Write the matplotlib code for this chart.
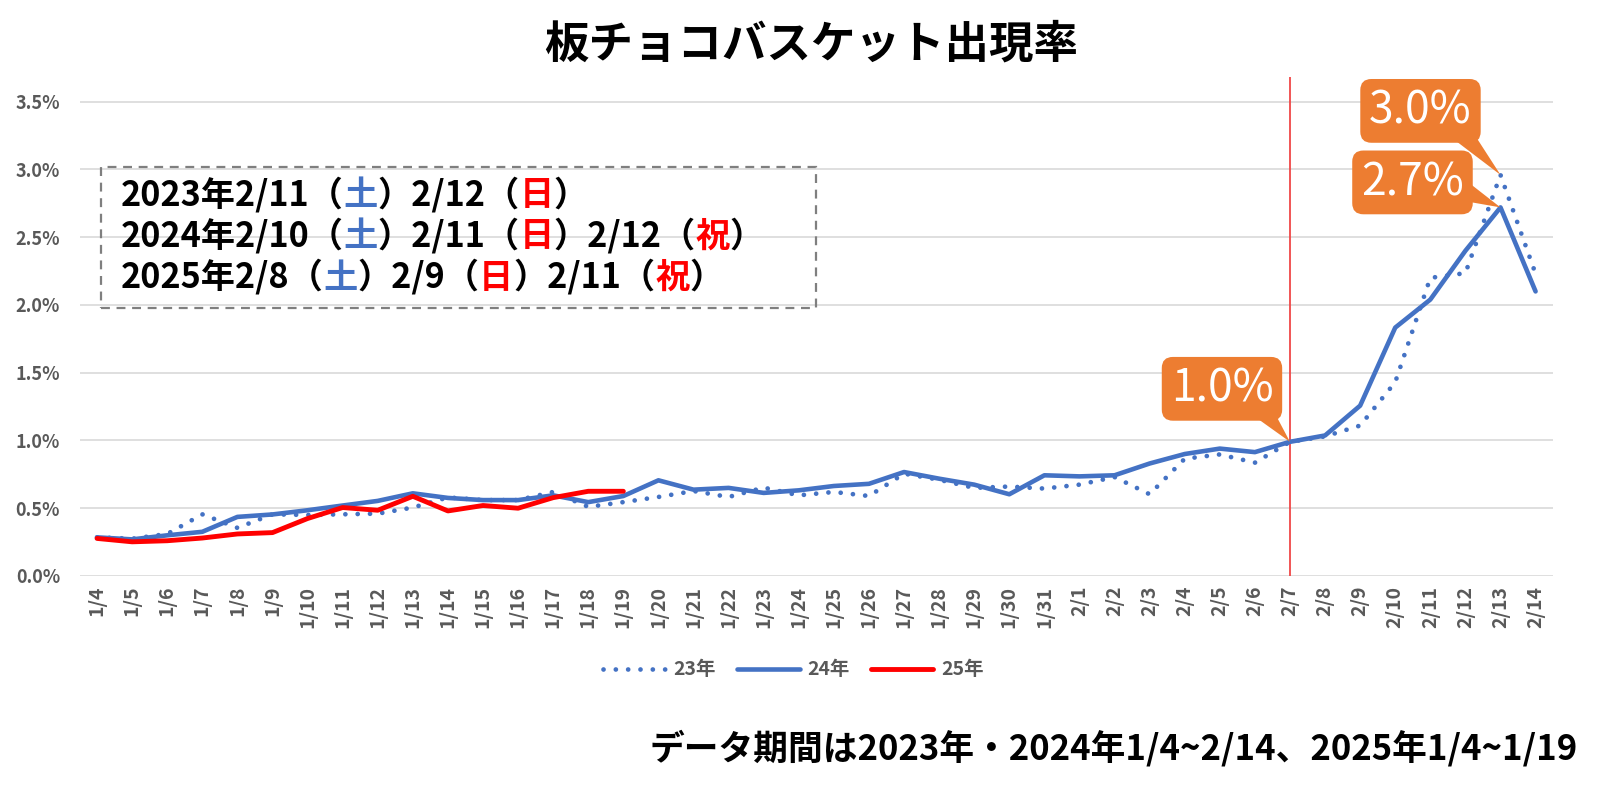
import matplotlib
matplotlib.use("Agg")
import matplotlib.pyplot as plt
from matplotlib.patches import Rectangle

plt.rcParams['font.family'] = ['Noto Sans CJK JP', 'DejaVu Sans']

# -------------------------------------------------
# DATA (rate in %)
# -------------------------------------------------
days = ['1/4', '1/5', '1/6', '1/7', '1/8', '1/9', '1/10', '1/11', '1/12', '1/13',
        '1/14', '1/15', '1/16', '1/17', '1/18', '1/19', '1/20', '1/21', '1/22', '1/23',
        '1/24', '1/25', '1/26', '1/27', '1/28', '1/29', '1/30', '1/31',
        '2/1', '2/2', '2/3', '2/4', '2/5', '2/6', '2/7', '2/8', '2/9', '2/10',
        '2/11', '2/12', '2/13', '2/14']

rate_23 = [0.285, 0.275, 0.31, 0.455, 0.355, 0.455, 0.45, 0.455, 0.46, 0.505,
           0.58, 0.56, 0.56, 0.62, 0.51, 0.545, 0.583, 0.627, 0.583, 0.652,
           0.595, 0.62, 0.59, 0.755, 0.71, 0.65, 0.66, 0.645,
           0.674, 0.73, 0.603, 0.865, 0.897, 0.836, 0.99, 1.03, 1.11, 1.43,
           2.2, 2.235, 2.96, 2.23]

rate_24 = [0.285, 0.27, 0.30, 0.326, 0.436, 0.454, 0.485, 0.52, 0.554, 0.61,
           0.576, 0.56, 0.56, 0.595, 0.545, 0.59, 0.706, 0.637, 0.65, 0.613,
           0.632, 0.664, 0.68, 0.767, 0.718, 0.674, 0.603, 0.743,
           0.735, 0.743, 0.83, 0.90, 0.94, 0.914, 0.99, 1.037, 1.257, 1.833,
           2.04, 2.40, 2.72, 2.10]

rate_25 = [0.277, 0.252, 0.26, 0.28, 0.31, 0.32, 0.424, 0.505, 0.485, 0.588,
           0.48, 0.52, 0.50, 0.578, 0.625, 0.625]

yticks = [0.0, 0.5, 1.0, 1.5, 2.0, 2.5, 3.0, 3.5]

# calendar note lines: (text, colour) segments
note_lines = [
    [('2023年2/11（', 'black'), ('土', 'blue'), ('）2/12（', 'black'), ('日', 'red'), ('）', 'black')],
    [('2024年2/10（', 'black'), ('土', 'blue'), ('）2/11（', 'black'), ('日', 'red'),
     ('）2/12（', 'black'), ('祝', 'red'), ('）', 'black')],
    [('2025年2/8（', 'black'), ('土', 'blue'), ('）2/9（', 'black'), ('日', 'red'),
     ('）2/11（', 'black'), ('祝', 'red'), ('）', 'black')],
]

BLUE = '#4472C4'
RED = '#FF0000'
ORANGE = '#ED7D31'
GRAY = '#595959'
seg_colors = {'black': 'black', 'blue': BLUE, 'red': RED}

# -------------------------------------------------
# FIGURE
# -------------------------------------------------
fig = plt.figure(figsize=(16, 7.89), dpi=100)
ax = fig.add_axes([0.0497, 0.27, 0.921, 0.632])

x = list(range(len(days)))
ax.plot(x, rate_23, color=BLUE, lw=3.4, linestyle=(0, (0.01, 2.6)),
        dash_capstyle='round', label='23年', zorder=3)
ax.plot(x, rate_24, color=BLUE, lw=3.3, solid_capstyle='round',
        solid_joinstyle='round', label='24年', zorder=4)
ax.plot(x[:len(rate_25)], rate_25, color=RED, lw=3.5, solid_capstyle='round',
        solid_joinstyle='round', label='25年', zorder=5)

ax.set_xlim(-0.5, len(days) - 0.5)
ax.set_ylim(0, 3.68)
ax.set_yticks(yticks)
ax.set_yticklabels([f'{v:.1f}%' for v in yticks], color=GRAY,
                   fontsize=13, fontweight='bold')
ax.set_xticks(x)
ax.set_xticklabels(days, rotation=90, color=GRAY, fontsize=14, fontweight='bold')
ax.tick_params(length=0, pad=7)
ax.tick_params(axis='y', pad=14)
ax.grid(axis='y', color='#D9D9D9', lw=1.2)
ax.set_axisbelow(True)
for s in ax.spines.values():
    s.set_visible(False)

# marker line at 2/7
i27 = days.index('2/7')
ax.axvline(i27, ymin=0, ymax=1, color='#F04848', lw=1.3, zorder=2)

# callouts: rounded box + wedge tapering to the data point
box = dict(boxstyle='round,pad=0.2,rounding_size=0.25', fc=ORANGE, ec='none')
wedge = dict(arrowstyle='wedge,tail_width=0.8,shrink_factor=0.5', fc=ORANGE,
             ec='none', shrinkA=0, shrinkB=0, mutation_scale=20)
i213 = days.index('2/13')
callouts = [
    ('1.0%', i27, rate_24[i27], (-68, 53), (0.86, 0.12)),
    ('3.0%', i213, rate_23[i213], (-80, 64), (0.86, 0.12)),
    ('2.7%', i213, rate_24[i213], (-88, 25), (0.96, 0.35)),
]
for label, xi, yv, off, corner in callouts:
    t = ax.annotate(label, xy=(xi, yv), xytext=off, textcoords='offset pixels',
                    ha='center', va='center', color='white', fontsize=32,
                    bbox=box, zorder=7)
    ax.annotate('', xy=(xi, yv), xycoords='data', xytext=corner, textcoords=t,
                arrowprops=wedge, zorder=6)

# legend
fig.legend(loc='center', bbox_to_anchor=(0.496, 0.151), ncol=3, frameon=False,
           handlelength=3.2, columnspacing=1.1, handletextpad=0.4,
           prop={'size': 14, 'weight': 'bold'}, labelcolor=GRAY)

# calendar note box
fig.patches.append(Rectangle((0.0631, 0.61), 0.447, 0.178, transform=fig.transFigure,
                             fill=False, ec='#7F7F7F', lw=1.6, ls=(0, (4, 3))))
line_y = [0.7529, 0.7009, 0.6489]
for ly, segs in zip(line_y, note_lines):
    prev = None
    for txt, col in segs:
        if prev is None:
            prev = fig.text(0.0753, ly, txt, color=seg_colors[col], fontsize=24.6,
                            fontweight='bold', ha='left', va='center')
        else:
            prev = ax.annotate(txt, xy=(1, 0.5), xycoords=prev, color=seg_colors[col],
                               fontsize=24.6, fontweight='bold', ha='left', va='center',
                               annotation_clip=False)

# title and footnote
fig.text(0.507, 0.944, '板チョコバスケット出現率', ha='center', va='center',
         fontsize=32, fontweight='bold')
fig.text(0.986, 0.052, 'データ期間は2023年・2024年1/4~2/14、2025年1/4~1/19',
         ha='right', va='center', fontsize=25, fontweight='bold')

fig.savefig('out.png', dpi=100)
